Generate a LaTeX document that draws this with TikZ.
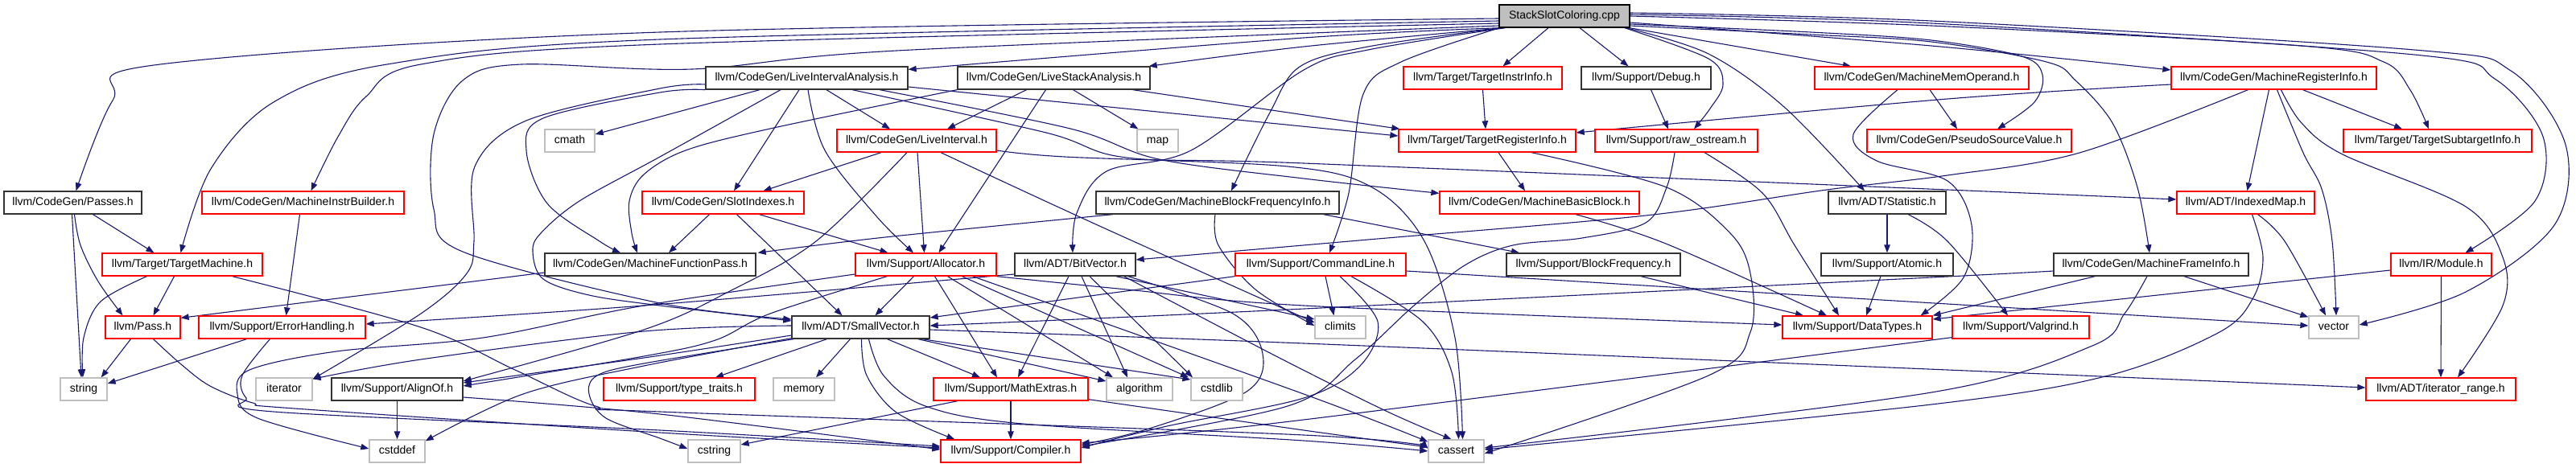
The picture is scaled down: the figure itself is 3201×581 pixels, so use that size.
\documentclass[tikz,border=0pt]{standalone}
\usepackage{fontspec}
\setmainfont{Liberation Sans}
\usetikzlibrary{arrows.meta}
\definecolor{edgec}{HTML}{191970}
\definecolor{grayb}{HTML}{BFBFBF}
\definecolor{redb}{HTML}{FF0000}
\definecolor{blkb}{HTML}{333333}
\pgfdeclarelayer{bg}
\pgfsetlayers{bg,main}
\newcommand\ep[1]{\draw[e] plot[smooth,tension=0.55] coordinates {#1};}
\tikzset{
  nb/.style={draw=blkb, line width=1.3pt, fill=white, minimum height=28pt, inner sep=0pt,
    text height=10pt, text depth=3pt, font=\fontsize{14}{16}\selectfont},
  nr/.style={nb, draw=redb},
  ng/.style={nb, draw=grayb},
  e/.style={draw=edgec, line width=1.1pt, -{Triangle[length=10pt,width=7.5pt]}},
}
\begin{document}
\begin{tikzpicture}[x=1pt,y=-1pt]
\useasboundingbox (0,0) rectangle (3201,581);
% row 0
\node[nb, fill=grayb, draw=black, minimum width=162] (ssc) at (1944,20) {StackSlotColoring.cpp};
% row 1
\node[nb, minimum width=251] (lia) at (1002.5,97) {llvm/CodeGen/LiveIntervalAnalysis.h};
\node[nb, minimum width=239] (lsa) at (1309.5,97) {llvm/CodeGen/LiveStackAnalysis.h};
\node[nr, minimum width=197] (tii) at (1842.5,97) {llvm/Target/TargetInstrInfo.h};
\node[nb, minimum width=161] (dbg) at (2045.5,97) {llvm/Support/Debug.h};
\node[nr, minimum width=266] (mmo) at (2388,97) {llvm/CodeGen/MachineMemOperand.h};
\node[nr, minimum width=255] (mri) at (2825.5,97) {llvm/CodeGen/MachineRegisterInfo.h};
% row 2
\node[ng, minimum width=62] (cmath) at (708,175) {cmath};
\node[nr, minimum width=198] (li) at (1139,175) {llvm/CodeGen/LiveInterval.h};
\node[ng, minimum width=51] (map) at (1438.5,175) {map};
\node[nr, minimum width=220] (tri) at (1848,175) {llvm/Target/TargetRegisterInfo.h};
\node[nr, minimum width=202] (raw) at (2083,175) {llvm/Support/raw\_ostream.h};
\node[nr, minimum width=254] (psv) at (2447,175) {llvm/CodeGen/PseudoSourceValue.h};
\node[nr, minimum width=234] (tsi) at (3029,175) {llvm/Target/TargetSubtargetInfo.h};
% row 3
\node[nb, minimum width=171] (passes) at (90.5,252) {llvm/CodeGen/Passes.h};
\node[nr, minimum width=251] (mib) at (376.5,252) {llvm/CodeGen/MachineInstrBuilder.h};
\node[nr, minimum width=201] (slot) at (898.5,252) {llvm/CodeGen/SlotIndexes.h};
\node[nb, minimum width=302] (mbfi) at (1513,252) {llvm/CodeGen/MachineBlockFrequencyInfo.h};
\node[nr, minimum width=248] (mbb) at (1913,252) {llvm/CodeGen/MachineBasicBlock.h};
\node[nb, minimum width=146] (stat) at (2345,252) {llvm/ADT/Statistic.h};
\node[nr, minimum width=171] (imap) at (2790.5,252) {llvm/ADT/IndexedMap.h};
% row 4
\node[nr, minimum width=199] (tm) at (226.5,329) {llvm/Target/TargetMachine.h};
\node[nb, minimum width=262] (mfp) at (808,329) {llvm/CodeGen/MachineFunctionPass.h};
\node[nr, minimum width=175] (alloc) at (1150.5,329) {llvm/Support/Allocator.h};
\node[nb, minimum width=150] (bitv) at (1336,329) {llvm/ADT/BitVector.h};
\node[nr, minimum width=212] (cl) at (1641,329) {llvm/Support/CommandLine.h};
\node[nb, minimum width=216] (bf) at (1980,329) {llvm/Support/BlockFrequency.h};
\node[nb, minimum width=164] (atomic) at (2345,329) {llvm/Support/Atomic.h};
\node[nb, minimum width=242] (mfi) at (2673,329) {llvm/CodeGen/MachineFrameInfo.h};
\node[nr, minimum width=125] (module) at (3033.5,329) {llvm/IR/Module.h};
% row 5
\node[nr, minimum width=93] (pass) at (177.5,407) {llvm/Pass.h};
\node[nr, minimum width=207] (err) at (350.5,407) {llvm/Support/ErrorHandling.h};
\node[nb, minimum width=171] (sv) at (1069.5,407) {llvm/ADT/SmallVector.h};
\node[ng, minimum width=63] (climits) at (1665.5,407) {climits};
\node[nr, minimum width=186] (dt) at (2308,407) {llvm/Support/DataTypes.h};
\node[nr, minimum width=170] (valg) at (2511,407) {llvm/Support/Valgrind.h};
\node[ng, minimum width=62] (vector) at (2900,407) {vector};
% row 6
\node[ng, minimum width=58] (string) at (104,484) {string};
\node[ng, minimum width=70] (iter) at (353,484) {iterator};
\node[nb, minimum width=163] (align) at (493.5,484) {llvm/Support/AlignOf.h};
\node[nr, minimum width=188] (tt) at (844,484) {llvm/Support/type\_traits.h};
\node[ng, minimum width=76] (memory) at (999,484) {memory};
\node[nr, minimum width=192] (mathx) at (1256,484) {llvm/Support/MathExtras.h};
\node[ng, minimum width=82] (algo) at (1416,484) {algorithm};
\node[ng, minimum width=64] (cstdlib) at (1512,484) {cstdlib};
\node[nr, minimum width=186] (itr) at (3033,484) {llvm/ADT/iterator\_range.h};
% row 7
\node[ng, minimum width=69] (cstddef) at (493.5,561) {cstddef};
\node[ng, minimum width=65] (cstring) at (887.5,561) {cstring};
\node[nr, minimum width=174] (compiler) at (1256,561) {llvm/Support/Compiler.h};
\node[ng, minimum width=69] (cassert) at (1809.5,561) {cassert};

\begin{pgfonlayer}{bg}
% StackSlotColoring.cpp
\ep{([shift={(0,3)}]ssc.west) (820,40) (199,80) (140,125) ([shift={(4,0)}]passes.north)}
\ep{([shift={(0,6)}]ssc.west) (820,49) (481,80) (340,127) (262,210) ([shift={(-2,0)}]tm.north)}
\ep{([shift={(0,9)}]ssc.west) (820,55) (523,80) (455,120) (420,170) ([shift={(10,0)}]mib.north)}
\ep{([shift={(0,12)}]ssc.west) (1114,63) (860,86) (648,80) (575,100) (539,167) (539,260) (575,313) (820,377) ([shift={(0,-10)}]sv.west)}
\ep{([shift={(3,0)}]ssc.south west) (1620,47) ([shift={(0,4)}]lia.north east)}
\ep{([shift={(7,0)}]ssc.south west) (1620,58) ([shift={(-2,0)}]lsa.north east)}
\draw[e] ([shift={(-20,0)}]ssc.south) -- ([shift={(25,0)}]tii.north);
\draw[e] ([shift={(19,0)}]ssc.south) -- ([shift={(-22,0)}]dbg.north);
\ep{([shift={(-7,0)}]ssc.south east) (2123,73) (2141,105) (2125,135) ([shift={(22,0)}]raw.north)}
\draw[e] ([shift={(-1,0)}]ssc.south east) -- ([shift={(-88,0)}]mmo.north);
\ep{([shift={(0,8)}]ssc.east) (2400,57) ([shift={(0,-10)}]mri.west)}
\ep{([shift={(0,10)}]ssc.east) (2250,40) (2400,50) (2512,70) (2538,93) (2528,127) ([shift={(35,0)}]psv.north)}
\ep{([shift={(0,12)}]ssc.east) (2250,43) (2400,52) (2543,77) (2579,100) (2625,153) (2656,233) ([shift={(-2,0)}]mfi.north)}
\ep{(ssc.east) (2400,32) (2860,57) (2962,77) (2995,112) ([shift={(-11,0)}]tsi.north)}
\ep{([shift={(0,-2)}]ssc.east) (2400,29) (3000,68) (3100,98) (3160,170) (3150,250) ([shift={(30,0)}]module.north)}
\ep{([shift={(0,-4)}]ssc.east) (2400,26) (3000,62) (3120,88) (3188,180) (3174,280) (3064,363) ([shift={(0,-3)}]vector.east)}
\ep{([shift={(-5,0)}]ssc.south east) (2123,67) (2217,133) ([shift={(-28,0)}]stat.north)}
\ep{([shift={(8,0)}]ssc.south west) (1700,62) (1620,87) (1480,187) (1375,213) (1338,265) ([shift={(-3,0)}]bitv.north)}
\ep{([shift={(5,0)}]ssc.south west) (1700,58) (1615,83) (1578,140) ([shift={(17,0)}]mbfi.north)}
\ep{([shift={(1,0)}]ssc.south west) (1741,77) (1694,117) (1676,240) ([shift={(11,0)}]cl.north)}
% LiveIntervalAnalysis
\draw[e] ([shift={(-58.5,0)}]lia.south) -- ([shift={(0,-8)}]cmath.east);
\ep{([shift={(0,8)}]lia.west) (820,110) (654,150) (590,207) (589,300) (580,340) (523,390) ([shift={(0,2)}]iter.north east)}
\ep{([shift={(-32.5,0)}]lia.south) (820,195) (720,250) (672,290) (662,313) (675,347) (732,367) (820,380) ([shift={(0,-8)}]sv.west)}
\ep{(lia.south west) (820,115) (675,147) (654,187) (680,253) (745,300) ([shift={(-37,0)}]mfp.north)}
\draw[e] ([shift={(-9.5,0)}]lia.south) -- ([shift={(13.5,0)}]slot.north);
\draw[e] ([shift={(24.5,0)}]lia.south) -- ([shift={(-33,0)}]li.north);
\ep{([shift={(1.5,0)}]lia.south) (1025,187) (1090,270) ([shift={(-15.5,0)}]alloc.north)}
\draw[e] ([shift={(0,11)}]lia.east) -- ([shift={(0,-6)}]tri.west);
\ep{([shift={(90.5,0)}]lia.south) (1330,160) (1440,198) (1620,222) ([shift={(0,3)}]mbb.north west)}
\ep{([shift={(56.5,0)}]lia.south) (1300,165) (1400,196) (1620,203) (2420,236) ([shift={(0,-4)}]imap.west)}
% LiveStackAnalysis
\draw[e] ([shift={(-34,0)}]lsa.south) -- ([shift={(38,0)}]li.north);
\ep{(lsa.south west) (957,160) (852,187) (800,217) (782,250) (785,290) ([shift={(-16,0)}]mfp.north)}
\draw[e] ([shift={(-10,0)}]lsa.south) -- ([shift={(16,0)}]alloc.north);
\draw[e] ([shift={(24,0)}]lsa.south) -- ([shift={(2,0)}]map.north west);
\draw[e] ([shift={(98,0)}]lsa.south) -- ([shift={(2,0)}]tri.north west);
% single ones
\draw[e] (tii.south) -- ([shift={(-2,0)}]tri.north);
\draw[e] ([shift={(6,0)}]dbg.south) -- ([shift={(-10,0)}]raw.north);
\draw[e] ([shift={(10,0)}]mmo.south) -- ([shift={(-15,0)}]psv.north);
\ep{([shift={(-30,0)}]mmo.south) (2303,167) (2332,200) (2420,225) (2450,280) (2440,345) ([shift={(-15,0)}]dt.north east)}
% MachineRegisterInfo
\ep{([shift={(0,8)}]mri.west) (2420,123) ([shift={(0,-10)}]tri.east)}
\ep{([shift={(-32,0)}]mri.south) (2584,190) (2420,218) (2270,236) (2045,268) (1700,298) ([shift={(0,-6)}]bitv.east)}
\draw[e] ([shift={(-6,0)}]mri.south) -- ([shift={(2,0)}]imap.north);
\ep{([shift={(4,0)}]mri.south) (2862,190) (2885,235) (2898,300) ([shift={(3,0)}]vector.north)}
\ep{([shift={(9,0)}]mri.south) (2860,153) (2911,192) (3064,257) (3110,320) (3110,380) ([shift={(21,0)}]itr.north)}
\draw[e] ([shift={(36,0)}]mri.south) -- ([shift={(-44,0)}]tsi.north);
% raw_ostream
\ep{([shift={(35,0)}]raw.south) (2190,240) (2230,305) ([shift={(-23,0)}]dt.north)}
\ep{([shift={(-2,0)}]raw.south) (2071,233) (2045,277) (1966,296) (1880,305) (1820,330) (1757,380) (1684,447) (1600,505) ([shift={(0,-6)}]compiler.east)}
% LiveInterval
\draw[e] ([shift={(-44,0)}]li.south) -- ([shift={(50,0)}]slot.north);
\draw[e] ([shift={(1,0)}]li.south) -- ([shift={(-2,0)}]alloc.north);
\ep{([shift={(-12,0)}]li.south) (1014,300) (905,363) (800,410) ([shift={(0,-10)}]align.east)}
\ep{([shift={(30,0)}]li.south) (1364,280) ([shift={(0,-6)}]climits.west)}
\ep{([shift={(0,12)}]li.east) (1323,195) (1600,207) (1705,233) (1770,300) (1808,420) ([shift={(8,0)}]cassert.north)}
% SlotIndexes
\draw[e] ([shift={(-17,0)}]slot.south) -- ([shift={(23,0)}]mfp.north);
\draw[e] ([shift={(17,0)}]slot.south) -- ([shift={(-23,0)}]sv.north);
\draw[e] ([shift={(45,0)}]slot.south) -- ([shift={(-47,0)}]alloc.north);
% MBFI
\ep{([shift={(-130,0)}]mbfi.south) (1100,295) ([shift={(2,0)}]mfp.north east)}
\draw[e] ([shift={(-20,0)}]mbfi.south east) -- ([shift={(-92,0)}]bf.north);
\ep{([shift={(-3,0)}]mbfi.south) (1514,305) (1560,360) ([shift={(0,-2)}]climits.west)}
% MBB, Statistic, IndexedMap
\ep{([shift={(45,0)}]mbb.south) (2070,303) ([shift={(-38,0)}]dt.north)}
\draw[e] (stat.south) -- (atomic.north);
\ep{([shift={(26,0)}]stat.south) (2420,300) ([shift={(-16,0)}]valg.north)}
\ep{([shift={(15,0)}]imap.south) (2839,300) ([shift={(-10,0)}]vector.north)}
\ep{([shift={(8,0)}]imap.south) (2812,320) (2800,370) (2758,413) (2620,467) (2400,503) ([shift={(0,-2)}]cassert.east)}
% Passes, MIB, TM, MFP
\draw[e] ([shift={(25,0)}]passes.south) -- ([shift={(-35,0)}]tm.north);
\ep{([shift={(2,0)}]passes.south) (100,305) (122,350) ([shift={(-25,0)}]pass.north)}
\draw[e] ([shift={(-1,0)}]passes.south) -- ([shift={(-3,0)}]string.north);
\draw[e] ([shift={(-4,0)}]mib.south) -- ([shift={(5,0)}]err.north);
\draw[e] ([shift={(-10,0)}]tm.south) -- ([shift={(13,0)}]pass.north);
\ep{([shift={(-44,0)}]tm.south) (125,375) (104,420) ([shift={(-1,0)}]string.north)}
\ep{([shift={(-38,0)}]tm.south east) (523,407) (640,460) (740,505) (820,512) (1620,541) ([shift={(0,-3)}]cassert.west)}
\draw[e] ([shift={(0,10)}]mfp.west) -- ([shift={(0,3)}]pass.north east);
% Allocator
\draw[e] ([shift={(-15,0)}]alloc.south) -- ([shift={(18,0)}]sv.north);
\ep{([shift={(40,0)}]alloc.south west) (957,390) (889,423) (800,443) ([shift={(0,-4)}]align.east)}
\ep{([shift={(0,12)}]alloc.west) (800,380) (600,420) (418,437) (310,460) (295,490) (320,520) ([shift={(0,-3)}]cstddef.west)}
\draw[e] ([shift={(11,0)}]alloc.south) -- ([shift={(-17,0)}]mathx.north);
\draw[e] ([shift={(27,0)}]alloc.south) -- ([shift={(-33,0)}]algo.north);
\draw[e] ([shift={(45,0)}]alloc.south) -- ([shift={(-35,0)}]cstdlib.north);
\ep{([shift={(-30,0)}]alloc.south east) (1620,490) ([shift={(0,3)}]cassert.north west)}
\ep{(alloc.south east) (1400,360) (1620,380) ([shift={(0,-3)}]dt.west)}
% BitVector
\ep{([shift={(-10,0)}]bitv.south east) (1532,390) (1569,440) (1549,487) (1428,533) ([shift={(0,-8)}]compiler.east)}
\ep{([shift={(0,12)}]bitv.west) (800,380) ([shift={(0,-4)}]err.east)}
\draw[e] ([shift={(-8,0)}]bitv.south) -- ([shift={(9,0)}]mathx.north);
\draw[e] ([shift={(8,0)}]bitv.south) -- ([shift={(-15,0)}]algo.north);
\draw[e] ([shift={(18,0)}]bitv.south) -- ([shift={(-30,0)}]cstdlib.north);
\draw[e] ([shift={(-25,0)}]bitv.south east) -- ([shift={(0,-10)}]climits.west);
\ep{([shift={(-15,0)}]bitv.south east) (1580,440) (1720,510) ([shift={(-6,0)}]cassert.north)}
% CommandLine
\draw[e] (cl.south west) -- ([shift={(0,-12)}]sv.east);
\draw[e] ([shift={(6,0)}]cl.south) -- ([shift={(-8,0)}]climits.north);
\ep{([shift={(38,0)}]cl.south) (1768,400) (1804,463) ([shift={(3,0)}]cassert.north)}
\ep{([shift={(24,0)}]cl.south) (1712,400) (1690,455) (1620,495) (1450,530) ([shift={(0,-4)}]compiler.east)}
\ep{([shift={(0,8)}]cl.east) (2420,378) ([shift={(0,-2)}]vector.west)}
% MachineFrameInfo, Module
\ep{([shift={(0,8)}]mfi.west) (2400,345) (1600,385) ([shift={(0,-2)}]sv.east)}
\draw[e] ([shift={(52,0)}]mfi.south west) -- (dt.north east);
\ep{([shift={(-5,0)}]mfi.south) (2640,390) (2600,430) (2400,488) ([shift={(0,-4)}]cassert.east)}
\draw[e] ([shift={(41,0)}]mfi.south) -- ([shift={(0,2)}]vector.north west);
\draw[e] ([shift={(0,7)}]module.west) -- ([shift={(0,-10)}]dt.east);
\draw[e] (module.south) -- (itr.north);
% Pass, ErrorHandling
\draw[e] ([shift={(-15,0)}]pass.south) -- ([shift={(-8,0)}]string.north east);
\ep{([shift={(13,0)}]pass.south) (225,453) (261,480) (314,501) (366,508) (820,538) ([shift={(0,-4)}]compiler.west)}
\draw[e] ([shift={(-44,0)}]err.south) -- ([shift={(0,-7)}]string.east);
\ep{([shift={(-15,0)}]err.south) (301,467) (306,495) (340,512) (820,535) ([shift={(0,-6)}]compiler.west)}
% SmallVector
\ep{([shift={(0,-2)}]sv.west) (800,412) (523,447) ([shift={(0,2)}]iter.north east)}
\ep{([shift={(0,10)}]sv.west) (800,445) ([shift={(0,-8)}]align.east)}
\ep{([shift={(0,-1)}]sv.south west) (800,455) (650,490) ([shift={(0,2)}]cstddef.north east)}
\ep{([shift={(3,0)}]sv.south west) (800,452) (742,467) (732,490) (753,520) (820,545) ([shift={(0,-3)}]cstring.west)}
\draw[e] ([shift={(-42,0)}]sv.south) -- ([shift={(45,0)}]tt.north);
\draw[e] ([shift={(-13,0)}]sv.south) -- ([shift={(15,0)}]memory.north);
\ep{([shift={(1,0)}]sv.south) (1077,467) (1114,513) ([shift={(18,0)}]compiler.north west)}
\ep{([shift={(10,0)}]sv.south) (1098,467) (1150,505) (1271,527) (1620,548) (cassert.west)}
\draw[e] ([shift={(33,0)}]sv.south) -- ([shift={(-38,0)}]mathx.north);
\draw[e] ([shift={(-15,0)}]sv.south east) -- ([shift={(0,-10)}]algo.west);
\draw[e] ([shift={(-10,0)}]sv.south east) -- ([shift={(0,-12)}]cstdlib.west);
\ep{([shift={(0,3)}]sv.east) (1620,427) (2420,460) ([shift={(0,-2)}]itr.west)}
% AlignOf, MathExtras, Valgrind, Atomic, BlockFrequency
\draw[e] (align.south) -- (cstddef.north);
\ep{([shift={(0,10)}]align.east) (820,515) ([shift={(0,-2)}]compiler.west)}
\draw[e] (mathx.south) -- (compiler.north);
\draw[e] ([shift={(-66,0)}]mathx.south) -- ([shift={(0,-8)}]cstring.east);
\ep{([shift={(0,-2)}]mathx.south east) (1620,535) ([shift={(0,-5)}]cassert.west)}
\ep{([shift={(0,-2)}]valg.south west) (1620,522) ([shift={(0,-10)}]compiler.east)}
\draw[e] ([shift={(-8,0)}]atomic.south) -- ([shift={(11,0)}]dt.north);
\draw[e] ([shift={(59,0)}]bf.south) -- ([shift={(-67,0)}]dt.north);
% TargetRegisterInfo
\draw[e] ([shift={(14,0)}]tri.south) -- ([shift={(-18,0)}]mbb.north);
\ep{([shift={(55,0)}]tri.south) (2071,233) (2150,290) (2175,340) (2175,413) (2123,467) ([shift={(0,3)}]cassert.east)}
\end{pgfonlayer}
\end{tikzpicture}
\end{document}
